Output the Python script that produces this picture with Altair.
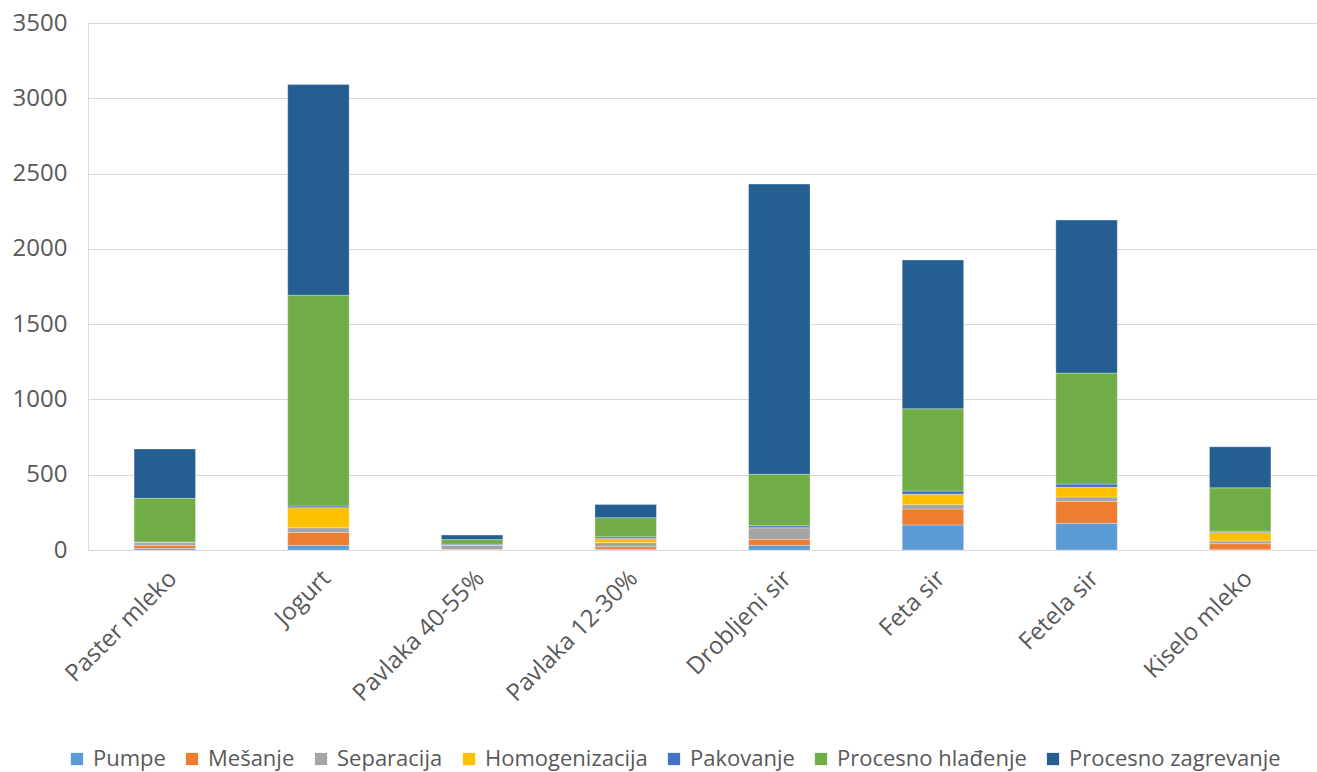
import altair as alt
import pandas as pd

categories = ["Paster mleko", "Jogurt", "Pavlaka 40-55%", "Pavlaka 12-30%",
              "Drobljeni sir", "Feta sir", "Fetela sir", "Kiselo mleko"]
series_names = ["Pumpe", "Mešanje", "Separacija", "Homogenizacija",
                "Pakovanje", "Procesno hlađenje", "Procesno zagrevanje"]
pumpe = [10, 31, 0, 5, 31, 166, 177, 2]
mesanje = [20, 86, 3, 17, 40, 106, 146, 40]
separacija = [20, 31, 28, 27, 77, 29, 29, 18]
homogenizacija = [0, 133, 0, 28, 0, 69, 64, 57]
pakovanje = [3, 11, 8, 11, 13, 22, 22, 8]
hladjenje = [290, 1400, 30, 127, 342, 546, 737, 288]
zagrevanje = [328, 1400, 30, 88, 1927, 988, 1016, 272]
colors = ["#5B9BD5", "#ED7D31", "#A5A5A5", "#FFC000", "#4472C4", "#70AD47", "#255E91"]

values = [pumpe, mesanje, separacija, homogenizacija, pakovanje, hladjenje, zagrevanje]
rows = []
for si, (name, vals) in enumerate(zip(series_names, values)):
    for cat, v in zip(categories, vals):
        rows.append({"kategorija": cat, "serija": name, "vrednost": v, "red": si})
df = pd.DataFrame(rows)

FONT = "Open Sans"

chart = alt.Chart(df).mark_bar(stroke="white", strokeWidth=0.5, strokeOpacity=0.6).encode(
    x=alt.X("kategorija:N", sort=categories, title=None,
            scale=alt.Scale(paddingInner=0.6, paddingOuter=0.3),
            axis=alt.Axis(labelAngle=-45, labelFontSize=24, labelColor="#595959",
                          labelFont=FONT, ticks=False, grid=False, domain=False,
                          labelPadding=16, labelLimit=300)),
    y=alt.Y("vrednost:Q", title=None, stack="zero",
            scale=alt.Scale(domain=[0, 3500], nice=False),
            axis=alt.Axis(values=list(range(0, 3501, 500)), format="d", labelFontSize=24,
                          labelColor="#595959", labelFont=FONT, ticks=False,
                          domain=False, gridColor="#D9D9D9", labelPadding=21)),
    color=alt.Color("serija:N", sort=series_names,
                    scale=alt.Scale(domain=series_names, range=colors),
                    legend=alt.Legend(title=None, orient="none", direction="horizontal",
                                      columns=7, legendX=-22, legendY=725,
                                      labelFontSize=22, labelColor="#595959",
                                      labelFont=FONT, symbolType="square",
                                      symbolSize=150, symbolStrokeWidth=0,
                                      columnPadding=15, labelOffset=5,
                                      labelLimit=400)),
    order=alt.Order("red:Q", sort="ascending"),
).properties(
    width=1229, height=527,
    padding={"left": 88, "top": 23, "right": 0, "bottom": 222},
    autosize=alt.AutoSizeParams(type="none"),
).configure_view(strokeWidth=0, stroke="transparent", fill="white").configure_axis(
    domain=False, domainColor="transparent"
).configure(background="white")

chart.save("out.html", embed_options={"renderer": "svg", "actions": False})
